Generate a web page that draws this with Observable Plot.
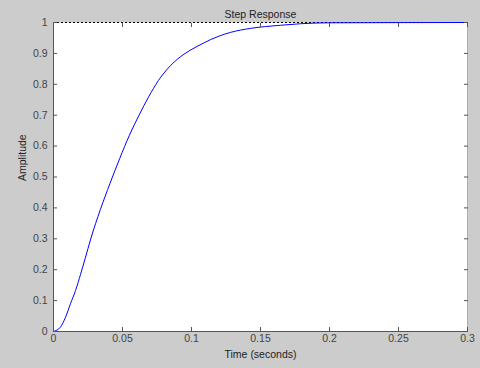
<!DOCTYPE html>
<html><head><meta charset="utf-8">
<script src="https://cdn.jsdelivr.net/npm/d3@7"></script>
<script src="https://cdn.jsdelivr.net/npm/@observablehq/plot@0.6"></script>
<style>html,body{margin:0;padding:0;background:#cccccc;}</style>
</head><body><div id="chart"></div>
<script>
const time = [0, 0.005, 0.0087, 0.0123, 0.016, 0.0196, 0.023, 0.027, 0.034, 0.041, 0.048, 0.055, 0.062, 0.069, 0.076, 0.083, 0.090, 0.099, 0.109, 0.114, 0.12, 0.1283, 0.1428, 0.1645, 0.179, 0.2, 0.3];
const amplitude = [0, 0.014, 0.046, 0.09, 0.133, 0.185, 0.237, 0.30, 0.395, 0.48, 0.56, 0.635, 0.70, 0.76, 0.812, 0.852, 0.882, 0.91, 0.934, 0.945, 0.956, 0.968, 0.981, 0.991, 0.996, 0.999, 1];
const xTicks = [0, 0.05, 0.1, 0.15, 0.2, 0.25, 0.3];
const yTicks = [0, 0.1, 0.2, 0.3, 0.4, 0.5, 0.6, 0.7, 0.8, 0.9, 1];
const title = "Step Response";
const xLabel = "Time (seconds)";
const yLabel = "Amplitude";
const steadyState = [1];

const data = time.map((t, i) => ({t, a: amplitude[i]}));
const fmt = d => String(d);
const chart = Plot.plot({
  width: 480, height: 368,
  marginLeft: 53, marginRight: 13, marginTop: 22, marginBottom: 37,
  style: {background: "#cccccc", fontFamily: "'Liberation Sans', Arial, sans-serif", fontSize: "10.5px"},
  x: {domain: [0, 0.3]},
  y: {domain: [0, 1]},
  marks: [
    Plot.frame({fill: "white", stroke: null}),
    Plot.ruleX([0.3], {stroke: "#b0b0b0"}),
    Plot.ruleY(steadyState, {stroke: "black", strokeDasharray: "2,2"}),
    Plot.line(data, {x: "t", y: "a", stroke: "#0000ff", strokeWidth: 1, curve: "monotone-x"}),
    Plot.ruleX([0], {stroke: "#555"}),
    Plot.ruleY([0], {stroke: "#555"}),
    Plot.axisX(xTicks, {anchor: "bottom", tickSize: 4, dy: -4, fill: "none", stroke: "#555", label: null}),
    Plot.axisX(xTicks, {anchor: "top", tickSize: 4, dy: 4, fill: "none", stroke: "#555", label: null}),
    Plot.axisY(yTicks, {anchor: "left", tickSize: 4, dx: 4, fill: "none", stroke: "#555", label: null}),
    Plot.axisY(yTicks, {anchor: "right", tickSize: 4, dx: -4, fill: "none", stroke: "#555", label: null}),
    Plot.axisX(xTicks, {anchor: "bottom", tickSize: 0, tickPadding: 3, fill: "#444", label: null, tickFormat: fmt}),
    Plot.axisY(yTicks, {anchor: "left", tickSize: 0, tickPadding: 6, fill: "#444", label: null, tickFormat: fmt}),
    Plot.text([title], {text: d => d, frameAnchor: "top", dy: -12, fill: "#222"}),
    Plot.text([xLabel], {text: d => d, frameAnchor: "bottom", dy: 26, fill: "#222"}),
    Plot.text([yLabel], {text: d => d, frameAnchor: "left", dx: -31, dy: 4, rotate: -90, fill: "#222"})
  ]
});
document.getElementById("chart").appendChild(chart);
</script>
</body></html>
